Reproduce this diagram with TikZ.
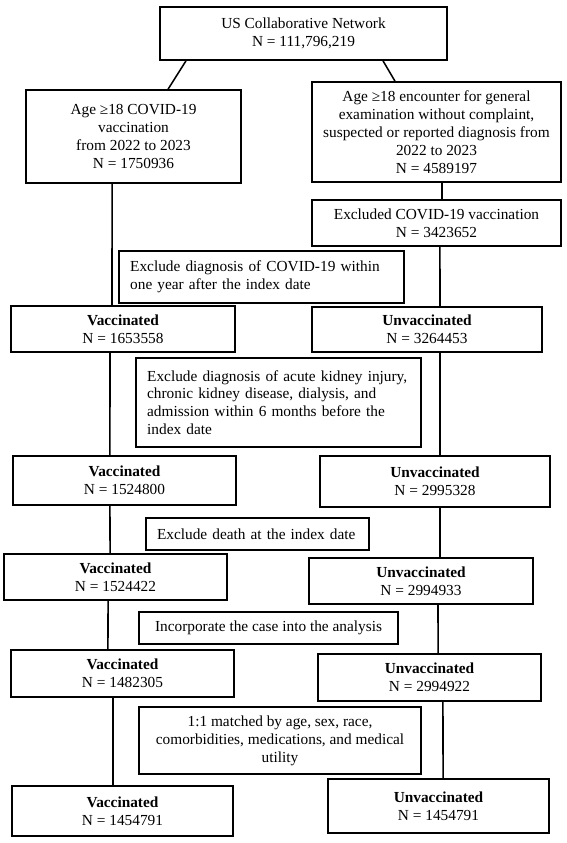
\documentclass[tikz,border=0pt]{standalone}
\usepackage{fontspec}
\setmainfont{Liberation Serif}
\begin{document}
\begin{tikzpicture}[x=0.75pt,y=-0.75pt,
  box/.style={draw, line width=1.15pt, inner sep=0pt, align=center,
    font=\fontsize{11.5}{13.4}\selectfont},
  lbox/.style={box, align=left},
  conn/.style={line width=1.15pt}]
\useasboundingbox (0,0) rectangle (567,843);

\node[box, minimum width=215.25pt, minimum height=39.75pt] (top) at (303.5,33.5)
  {US Collaborative Network\\N = 111,796,219};
\node[box, minimum width=161.25pt, minimum height=69.75pt] (vac0) at (133.5,136.5)
  {Age ≥18 COVID-19\\vaccination\\from 2022 to 2023\\N = 1750936};
\node[box, minimum width=186.75pt, minimum height=75pt] (enc) at (436.5,132)
  {Age ≥18 encounter for general\\examination without complaint,\\suspected or reported diagnosis from\\2022 to 2023\\N = 4589197};
\node[box, minimum width=186.75pt, minimum height=34.5pt] (excl) at (436.5,223)
  {Excluded COVID-19 vaccination\\N = 3423652};
\node[lbox, text width=197pt, minimum width=213.75pt, minimum height=39pt] (exdiag) at (261.5,277)
  {Exclude diagnosis of COVID-19 within\\one year after the index date};
\node[box, minimum width=168pt, minimum height=34.5pt] (vac1) at (123,329)
  {\textbf{Vaccinated}\\N = 1653558};
\node[box, minimum width=172.5pt, minimum height=33.75pt] (unv1) at (427,329.5)
  {\textbf{Unvaccinated}\\N = 3264453};
\node[lbox, text width=197pt, minimum width=213.75pt, minimum height=66.75pt] (kidney) at (278.5,402.5)
  {Exclude diagnosis of acute kidney injury,\\chronic kidney disease, dialysis, and\\admission within 6 months before the\\index date};
\node[box, minimum width=167.25pt, minimum height=36.75pt] (vac2) at (124.5,480.5)
  {\textbf{Vaccinated}\\N = 1524800};
\node[box, minimum width=172.5pt, minimum height=38.25pt] (unv2) at (435,481.5)
  {\textbf{Unvaccinated}\\N = 2995328};
\node[lbox, text width=150.75pt, minimum width=167.25pt, minimum height=24pt] (death) at (257.5,534)
  {Exclude death at the index date};
\node[box, minimum width=167.25pt, minimum height=34.5pt] (vac3) at (115.5,577)
  {\textbf{Vaccinated}\\N = 1524422};
\node[box, minimum width=168pt, minimum height=34.5pt] (unv3) at (421,581)
  {\textbf{Unvaccinated}\\N = 2994933};
\node[box, minimum width=194.25pt, minimum height=24pt] (incorp) at (268.5,628)
  {Incorporate the case into the analysis};
\node[box, minimum width=167.25pt, minimum height=35.25pt] (vac4) at (122.5,673.5)
  {\textbf{Vaccinated}\\N = 1482305};
\node[box, minimum width=167.25pt, minimum height=35.25pt] (unv4) at (429.5,677.5)
  {\textbf{Unvaccinated}\\N = 2994922};
\node[box, minimum width=211.5pt, minimum height=50.25pt] (matched) at (280,740.5)
  {1:1 matched by age, sex, race,\\comorbidities, medications, and medical\\utility};
\node[box, minimum width=165.75pt, minimum height=37.5pt] (vac5) at (122.5,811)
  {\textbf{Vaccinated}\\N = 1454791};
\node[box, minimum width=165.75pt, minimum height=40.5pt] (unv5) at (438.5,806)
  {\textbf{Unvaccinated}\\N = 1454791};

\draw[conn] ([xshift=-88.1pt]top.south) -- ([xshift=25.9pt]vac0.north);
\draw[conn] ([xshift=59.6pt]top.south) -- ([xshift=-31.1pt]enc.north);
\draw[conn] ([xshift=-16.1pt]vac0.south) -- ([xshift=-8.25pt]vac1.north);
\draw[conn] ([xshift=4.1pt]enc.south) -- ([xshift=4.1pt]excl.north);
\draw[conn] ([xshift=2.6pt]excl.south) -- ([xshift=9.75pt]unv1.north);
\draw[conn] ([xshift=-9.75pt]vac1.south) -- ([xshift=-10.9pt]vac2.north);
\draw[conn] ([xshift=9.75pt]unv1.south) -- ([xshift=3.75pt]unv2.north);
\draw[conn] ([xshift=-10.9pt]vac2.south) -- ([xshift=-4.1pt]vac3.north);
\draw[conn] ([xshift=3.75pt]unv2.south) -- ([xshift=14.25pt]unv3.north);
\draw[conn] ([xshift=-5.6pt]vac3.south) -- ([xshift=-10.9pt]vac4.north);
\draw[conn] ([xshift=12.75pt]unv3.south) -- ([xshift=6.4pt]unv4.north);
\draw[conn] ([xshift=-7.1pt]vac4.south) -- ([xshift=-7.1pt]vac5.north);
\draw[conn] ([xshift=10.1pt]unv4.south) -- ([xshift=3.4pt]unv5.north);
\end{tikzpicture}
\end{document}
